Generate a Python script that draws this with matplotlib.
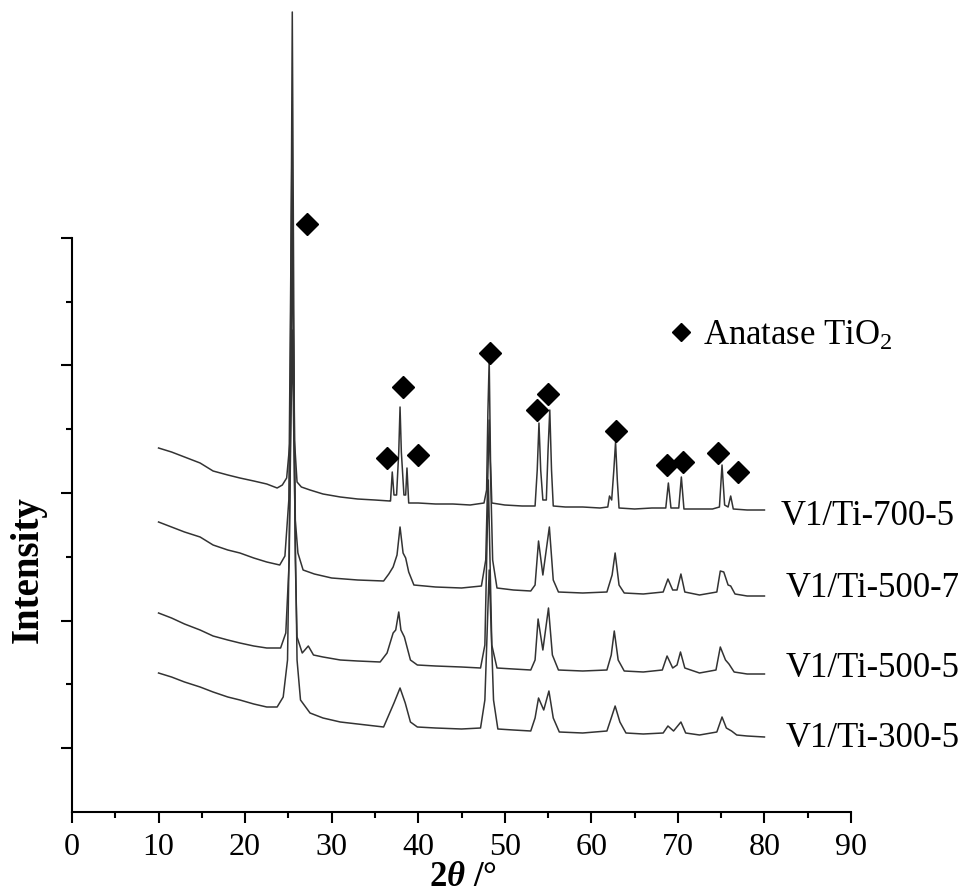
import matplotlib
matplotlib.use('Agg')
import matplotlib.pyplot as plt
from matplotlib.ticker import FixedLocator

plt.rcParams['font.family'] = ['Liberation Serif', 'DejaVu Serif']
plt.rcParams['mathtext.fontset'] = 'custom'
plt.rcParams['mathtext.rm'] = 'Liberation Serif'
plt.rcParams['mathtext.it'] = 'Liberation Serif:italic:bold'
plt.rcParams['mathtext.bf'] = 'Liberation Serif:bold'

# XRD patterns (2theta in degrees, intensity in a.u.)
x_700_5 = [10.0, 11.5, 13.0, 14.8, 16.3, 18.0, 19.4, 21.0, 22.5, 23.7, 24.3, 24.8, 25.2, 25.45, 25.7, 26.0,
           26.5, 27.5, 29.0, 31.0, 33.0, 35.0, 36.7, 36.8, 37.0, 37.2, 37.5, 37.75, 37.9, 38.05, 38.35,
           38.55, 38.7, 38.9, 40.0, 42.0, 44.0, 46.0, 47.6, 47.9, 48.05, 48.2, 48.35, 48.5, 50.0, 52.0,
           53.5, 53.75, 53.95, 54.15, 54.4, 54.8, 55.0, 55.2, 55.4, 55.6, 57.0, 59.0, 61.0, 61.9, 62.1,
           62.35, 62.6, 62.8, 63.0, 63.2, 65.0, 67.0, 68.6, 68.9, 69.2, 70.1, 70.4, 70.7, 72.0, 74.0,
           74.8, 75.1, 75.4, 75.8, 76.1, 76.4, 78.0, 80.0]
y_700_5 = [364, 360, 355, 349, 341, 337, 334, 331, 328, 324, 327, 334, 372, 800, 372, 330,
           325, 322, 318, 315, 313, 312, 311, 311, 340, 317, 317, 360, 405, 360, 317,
           317, 344, 309, 309, 308, 308, 307, 309, 322, 400, 452, 352, 309, 307, 306,
           306, 342, 389, 342, 312, 312, 362, 402, 342, 306, 305, 305, 304, 305, 316,
           312, 342, 370, 332, 304, 303, 304, 304, 329, 304, 304, 335, 303, 303, 303,
           305, 347, 307, 305, 316, 303, 302, 302]

x_500_7 = [10.0, 11.5, 13.0, 14.8, 16.3, 18.0, 19.4, 21.0, 22.5, 24.0, 24.6, 25.05, 25.3, 25.4, 25.55,
           25.8, 26.1, 26.7, 28.0, 30.0, 33.0, 36.0, 36.6, 37.1, 37.55, 37.9, 38.25, 38.55, 38.9, 39.5,
           42.0, 45.0, 47.3, 47.8, 48.2, 48.6, 49.1, 51.0, 53.0, 53.5, 53.9, 54.4, 55.15, 55.6, 56.2,
           59.0, 61.8, 62.4, 62.75, 63.2, 63.8, 66.0, 68.3, 68.85, 69.4, 69.9, 70.35, 70.8, 72.5, 74.5,
           74.9, 75.3, 75.8, 76.1, 76.6, 78.0, 80.0]
y_500_7 = [290, 285, 280, 275, 267, 262, 259, 254, 250, 247, 256, 312, 562, 654, 512,
           292, 259, 242, 238, 234, 232, 231, 238, 245, 257, 285, 259, 254, 240, 227,
           225, 224, 226, 252, 392, 252, 224, 222, 221, 227, 271, 237, 285, 232, 220,
           219, 220, 237, 259, 227, 219, 218, 220, 233, 222, 222, 238, 220, 217, 220,
           241, 240, 227, 226, 218, 216, 216]

x_500_5 = [10.0, 11.5, 13.0, 14.8, 16.3, 18.0, 19.4, 21.0, 22.5, 24.1, 24.7, 25.1, 25.45, 25.8, 26.0,
           26.6, 27.3, 27.9, 29.0, 31.0, 33.0, 35.6, 36.4, 37.1, 37.4, 37.75, 38.0, 38.4, 39.1, 39.9,
           42.0, 45.0, 47.2, 47.7, 48.1, 48.5, 49.1, 51.0, 53.0, 53.5, 53.85, 54.4, 55.05, 55.5, 56.2,
           59.0, 61.8, 62.3, 62.65, 63.1, 63.8, 66.0, 68.2, 68.75, 69.4, 69.9, 70.3, 70.8, 72.5, 74.4,
           74.9, 75.5, 75.9, 76.5, 78.0, 80.0]
y_500_5 = [199, 194, 188, 182, 176, 172, 169, 166, 164, 164, 179, 252, 582, 252, 175,
           159, 166, 157, 155, 152, 151, 150, 159, 179, 182, 200, 182, 175, 152, 147,
           146, 145, 144, 167, 332, 167, 144, 143, 142, 152, 193, 162, 204, 157, 142,
           141, 142, 157, 181, 152, 141, 140, 142, 156, 144, 147, 160, 144, 139, 142,
           165, 152, 148, 140, 138, 138]

x_300_5 = [10.0, 11.5, 13.0, 14.8, 16.3, 18.0, 19.4, 21.0, 22.5, 23.7, 24.4, 24.9, 25.45, 26.0, 26.4,
           27.5, 29.0, 31.0, 33.0, 36.0, 36.7, 37.2, 37.9, 38.5, 39.1, 39.9, 42.0, 45.0, 47.2, 47.7,
           48.2, 48.7, 49.2, 51.0, 53.0, 53.5, 53.9, 54.5, 55.1, 55.6, 56.3, 59.0, 61.8, 62.3, 62.75,
           63.3, 64.0, 66.0, 68.3, 68.85, 69.5, 70.35, 70.9, 72.5, 74.5, 75.1, 75.6, 76.2, 76.8, 78.0,
           80.0]
y_300_5 = [139, 135, 130, 125, 120, 115, 112, 108, 105, 105, 115, 152, 482, 152, 112,
           99, 94, 90, 88, 85, 99, 109, 124, 109, 90, 85, 84, 83, 84, 112,
           242, 112, 83, 82, 81, 94, 114, 102, 121, 94, 80, 79, 81, 94, 106,
           90, 79, 78, 79, 86, 81, 90, 79, 77, 80, 95, 84, 81, 77, 76,
           75]

sample_names = ['V1/Ti-700-5', 'V1/Ti-500-7', 'V1/Ti-500-5', 'V1/Ti-300-5']
label_y = [287, 215, 135, 65]

# anatase reflections marked with diamonds
anatase_x = [27.1, 36.35, 38.2, 40.0, 48.3, 53.76, 55.03, 62.81, 68.7, 70.63, 74.67, 76.98]
anatase_y = [588, 354, 425, 357, 459, 402, 418, 381, 347, 350, 359, 340]

fig = plt.figure(figsize=(9.65, 8.94), dpi=100)
ax = fig.add_axes([72 / 965, 82 / 894, 779 / 965, 812 / 894])

curves = [(x_300_5, y_300_5), (x_500_5, y_500_5), (x_500_7, y_500_7), (x_700_5, y_700_5)]
for xs, ys in curves:
    ax.plot(xs, ys, color='#333333', lw=1.1, clip_on=False)

ax.plot(anatase_x, anatase_y, ls='none', marker='D', ms=11, color='black', clip_on=False)

for name, ly in zip(sample_names, label_y):
    ax.text(81.9 if name == 'V1/Ti-700-5' else 82.4, ly, name, fontsize=25, va='baseline', ha='left')

# legend entry
ax.plot([70.4], [480], ls='none', marker='D', ms=9, color='black')
ax.text(72.9, 467, 'Anatase TiO$_2$', fontsize=25, va='baseline', ha='left')

ax.set_xlim(0, 90)
ax.set_ylim(0, 812)
ax.xaxis.set_major_locator(FixedLocator(range(0, 91, 10)))
ax.xaxis.set_minor_locator(FixedLocator(range(5, 90, 10)))
ax.yaxis.set_major_locator(FixedLocator([63.8 * k for k in (1, 3, 5, 7, 9)]))
ax.yaxis.set_minor_locator(FixedLocator([63.8 * k for k in (2, 4, 6, 8)]))
ax.set_yticklabels([])

for s in ['top', 'right']:
    ax.spines[s].set_visible(False)
for s in ['left', 'bottom']:
    ax.spines[s].set_linewidth(1.5)
ax.spines['left'].set_bounds(0, 63.8 * 9)

ax.tick_params(axis='both', which='major', length=8, width=1.5, direction='out')
ax.tick_params(axis='both', which='minor', length=4.5, width=1.5, direction='out')
ax.tick_params(axis='x', labelsize=23, pad=7)

fig.text(463 / 965, 1 - 886 / 894, r'$\mathbf{2}\mathit{\theta}$ /°', fontsize=25, fontweight='bold',
         ha='center', va='baseline')
fig.text(28 / 965, 1 - 570 / 894, 'Intensity', fontsize=28, fontweight='bold', rotation=90,
         ha='center', va='center')

fig.savefig('out.png', dpi=100)
